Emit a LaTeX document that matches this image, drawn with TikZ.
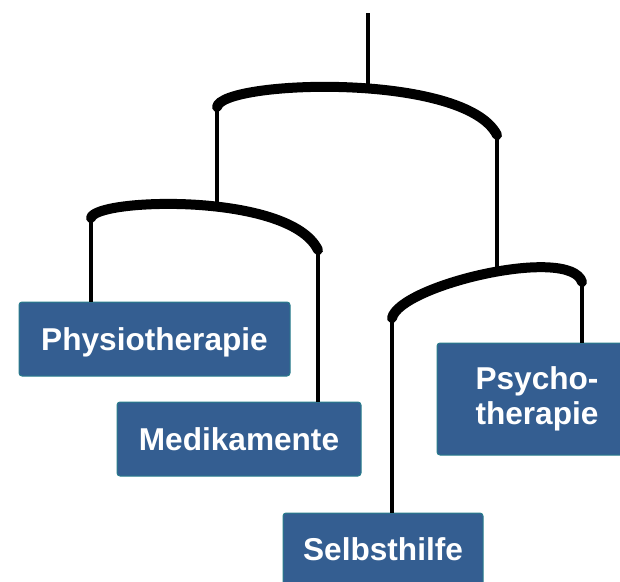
\documentclass[tikz,border=0pt]{standalone}
\usepackage{fontspec}
\setsansfont{Liberation Sans}
\usepackage{tikz}
\usetikzlibrary{positioning, calc}
\definecolor{mbBlue}{RGB}{52, 94, 145}
\definecolor{mbEdge}{RGB}{40, 125, 140}
\tikzset{
    therapy/.style={
        rectangle,
        rounded corners=3pt,
        draw=mbEdge,
        line width=1pt,
        fill=mbBlue,
        text=white,
        font=\fontsize{31.6}{35}\selectfont\sffamily\bfseries,
        align=center,
        inner sep=0pt
    },
    bar/.style={
        line width=10pt,
        line cap=round,
        black
    },
    thread/.style={
        line width=3.5pt,
        black
    }
}

\begin{document}
\begin{tikzpicture}[x=1pt, y=-1pt]
  \useasboundingbox (0,0) rectangle (620,581);
  \clip (0,0) rectangle (620,581);

  % Bar ends and hooks
  \coordinate (hook) at (368,13);
  \coordinate (topM) at (368,88);
  \coordinate (topL) at (217,107);
  \coordinate (topR) at (497,135);
  \coordinate (leftM) at (217,206);
  \coordinate (leftL) at (91,218);
  \coordinate (leftR) at (318,250);
  \coordinate (rightM) at (497,270);
  \coordinate (rightL) at (392,318);
  \coordinate (rightR) at (582,282);

  % Boxes
  \node[therapy, minimum width=271pt, minimum height=74pt, text height=22pt, text depth=0pt]
      (physio) at (154.5,339) {Physiotherapie};
  \node[therapy, minimum width=244pt, minimum height=74pt, text height=22pt, text depth=0pt]
      (medi) at (239,439) {Medikamente};
  \node[therapy, minimum width=200pt, minimum height=112pt]
      (psycho) at (537,399) {Psycho-\\therapie};
  \node[therapy, minimum width=200pt, minimum height=72pt, text height=22pt, text depth=0pt]
      (selbst) at (383,549) {Selbsthilfe};

  % Threads
  \draw[thread] (hook) -- (topM);
  \draw[thread] (topL) -- (leftM);
  \draw[thread] (topR) -- (rightM);
  \draw[thread] (leftL) -- (leftL |- physio.north);
  \draw[thread] (leftR) -- (leftR |- medi.north);
  \draw[thread] (rightL) -- (rightL |- selbst.north);
  \draw[thread] (rightR) -- (rightR |- psycho.north);

  % Bars
  \draw[bar] (topL) .. controls (222,80) and (465,72) .. (topR);
  \draw[bar] (leftL) .. controls (95,198) and (290,192) .. (leftR);
  \draw[bar] (rightL) .. controls (400,285) and (570,245) .. (rightR);
\end{tikzpicture}
\end{document}
